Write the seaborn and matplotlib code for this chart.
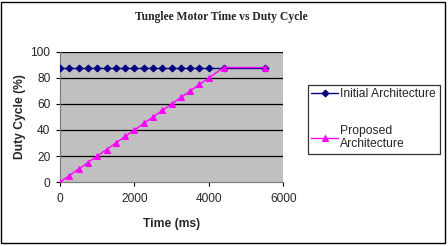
import numpy as np
import matplotlib
matplotlib.use('Agg')
import matplotlib.pyplot as plt
import seaborn as sns
import pandas as pd
from matplotlib.patches import Rectangle

# data
time_initial = [0, 250, 500, 750, 1000, 1250, 1500, 1750, 2000, 2250, 2500,
                2750, 3000, 3250, 3500, 3750, 4000, 4400, 5500]
duty_initial = [88] * 19
time_proposed = [0, 250, 500, 750, 1000, 1250, 1500, 1750, 2000, 2250, 2500,
                 2750, 3000, 3250, 3500, 3750, 4000, 4400, 5500]
duty_proposed = [0, 5, 10, 15, 20, 25, 30, 35, 40, 45, 50,
                 55, 60, 65, 70, 75, 80, 88, 88]

df_i = pd.DataFrame({'t': time_initial, 'd': duty_initial})
df_p = pd.DataFrame({'t': time_proposed, 'd': duty_proposed})

sns.set_theme(style='white')
plt.rcParams['font.family'] = ['Liberation Sans', 'DejaVu Sans']

fig = plt.figure(figsize=(4.48, 2.46), dpi=100)
ax = fig.add_axes([0.134, 0.26, 0.498, 0.529])
ax.set_facecolor('#C0C0C0')

sns.lineplot(data=df_i, x='t', y='d', ax=ax, color='#000080', marker='D',
             markersize=3.5, markeredgecolor='#000080', lw=1,
             label='Initial Architecture', zorder=3)
sns.lineplot(data=df_p, x='t', y='d', ax=ax, color='#FF00FF', marker='^',
             markersize=5, markeredgecolor='#FF00FF', lw=1,
             label='Proposed\nArchitecture', zorder=4)

ax.set_xlim(0, 6000); ax.set_ylim(0, 100)
ax.set_xticks([0, 2000, 4000, 6000]); ax.set_yticks([0, 20, 40, 60, 80, 100])
for y in [20, 40, 60, 80, 100]:
    ax.axhline(y, color='black', lw=0.9, zorder=1)
for s in ['top', 'right']:
    ax.spines[s].set_visible(False)
for s in ['left', 'bottom']:
    ax.spines[s].set_color('#808080'); ax.spines[s].set_linewidth(0.9)
ax.tick_params(axis='both', which='major', direction='out', length=3, width=0.8,
               color='black', labelsize=8.6, bottom=True, left=True)
ax.tick_params(axis='x', pad=5)
ax.tick_params(axis='y', pad=4)
ax.set_xlabel('Time (ms)', fontsize=8.7, fontweight='bold', labelpad=9)
ax.set_ylabel('Duty Cycle (%)', fontsize=8.7, fontweight='bold', labelpad=3)

fig.suptitle('Tunglee Motor Time vs Duty Cycle', x=0.495, y=0.955,
             fontsize=8.4, fontweight='bold', family='Liberation Serif')

leg = ax.legend(loc='upper left', bbox_to_anchor=(0.687, 0.655),
                bbox_transform=fig.transFigure, fontsize=8.7, frameon=True,
                fancybox=False, edgecolor='black', handlelength=2.2,
                borderpad=0.3, labelspacing=2.0, handletextpad=0.2,
                borderaxespad=0)
leg.get_frame().set_linewidth(0.9)

fig.patches.append(Rectangle((0.003, 0.012), 0.99, 0.98, transform=fig.transFigure,
                             fill=False, edgecolor='black', lw=1))

plt.savefig('out.png', dpi=100)
plt.close()
